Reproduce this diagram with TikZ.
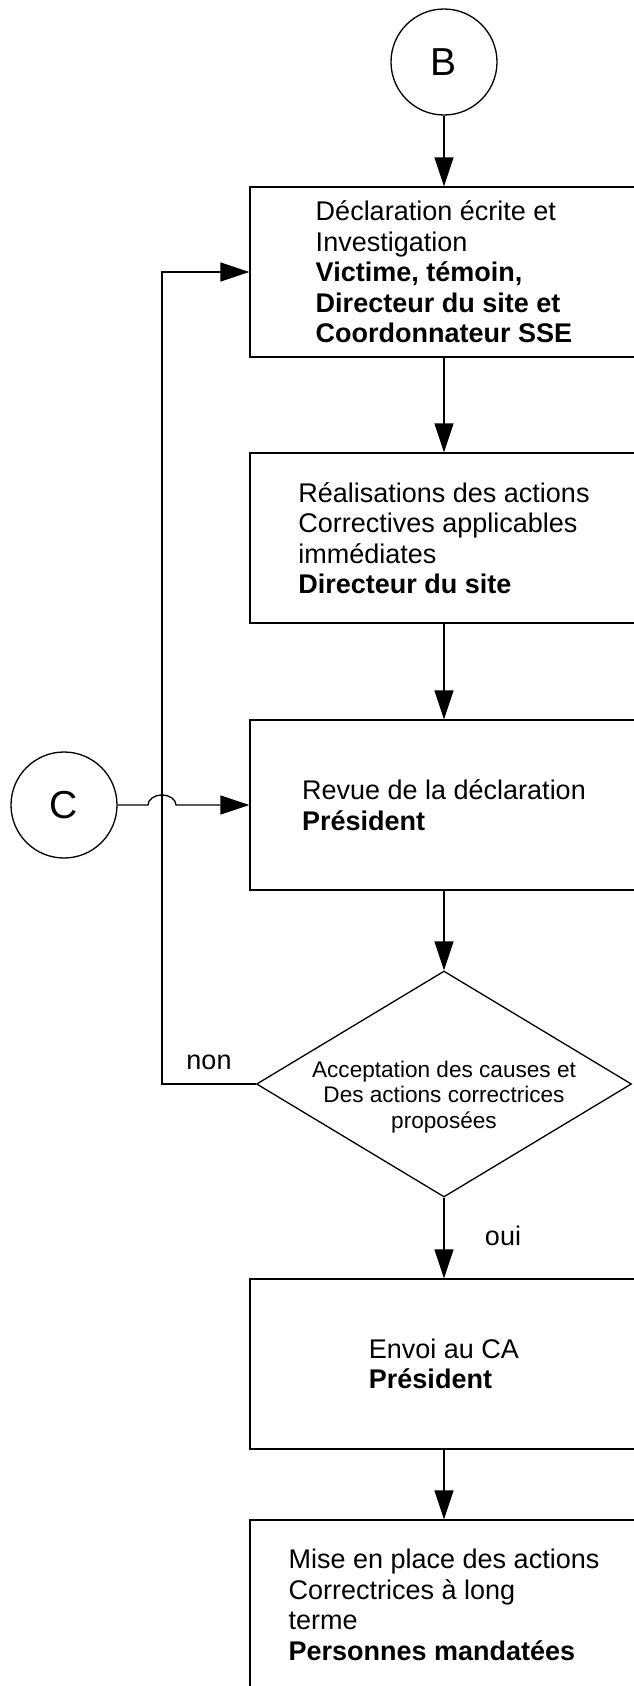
\documentclass[tikz,border=0pt]{standalone}
\usepackage{fontspec}
\setmainfont{Liberation Sans}
\usetikzlibrary{shapes.geometric}
\usetikzlibrary{arrows.meta}

\tikzset{
  connector/.style={circle, draw, line width=1.3pt, minimum size=106pt, inner sep=0pt, font=\fontsize{39}{42}\selectfont},
  process/.style={rectangle, draw, line width=1.3pt, minimum width=388pt, minimum height=170pt, inner sep=0pt, align=left, font=\fontsize{27}{30.5}\selectfont},
  decision/.style={diamond, draw, line width=1.3pt, minimum width=375pt, minimum height=226pt, inner sep=0pt},
  decisiontext/.style={align=center, inner sep=0pt, font=\fontsize{22.6}{25.5}\selectfont},
  branch/.style={inner sep=0pt, font=\fontsize{27}{30}\selectfont},
  flow/.style={line width=1.3pt, -{Triangle[length=29pt,width=19pt]}}
}

\begin{document}
\begin{tikzpicture}[x=1pt, y=-1pt]
\useasboundingbox (0,0) rectangle (634,1686);

% Draw the connectors B and C
\node[connector] (B) at (444,62) {B};
\node[connector] (C) at (64,805) {C};

% Draw the steps of the procedure
\node[process] (declaration) at (444,272) {Déclaration écrite et\\Investigation\\\textbf{Victime, témoin,}\\\textbf{Directeur du site et}\\\textbf{Coordonnateur SSE}};
\node[process] (realisation) at (444,538) {Réalisations des actions\\Correctives applicables\\immédiates\\\textbf{Directeur du site}};
\node[process] (revue) at (444,805) {Revue de la déclaration\\\textbf{Président}};
\node[process] (envoi) at (444,1364) {Envoi au CA\\\textbf{Président}};
\node[process] (miseplace) at (444,1605) {Mise en place des actions\\Correctrices à long\\terme\\\textbf{Personnes mandatées}};

% Draw the decision (shape and text)
\node[decision] (accept) at (444,1084) {};
\node[decisiontext] (accepttext) at (444,1097) {Acceptation des causes et\\Des actions correctrices\\proposées};

% Labels of the two branches
\node[branch] (non) at (209,1062) {non};
\node[branch] (oui) at (503,1236) {oui};

% Main flow
\draw[flow] (B) -- (declaration);
\draw[flow] (declaration) -- (realisation);
\draw[flow] (realisation) -- (revue);
\draw[flow] (revue) -- (accept.north);
\draw[flow] (accept.south) -- (envoi);
\draw[flow] (envoi) -- (miseplace);

% Loop back when the causes are not accepted
\coordinate (loop) at (162,1084);
\draw[flow] (accept.west) -- (loop) |- (declaration.west);

% Entry from C, hopping over the loop line
\coordinate (hop) at (148,805);
\draw[flow] (C.east) -- (hop) arc[start angle=180, end angle=0, x radius=14pt, y radius=10pt] -- (revue.west);
\end{tikzpicture}
\end{document}
